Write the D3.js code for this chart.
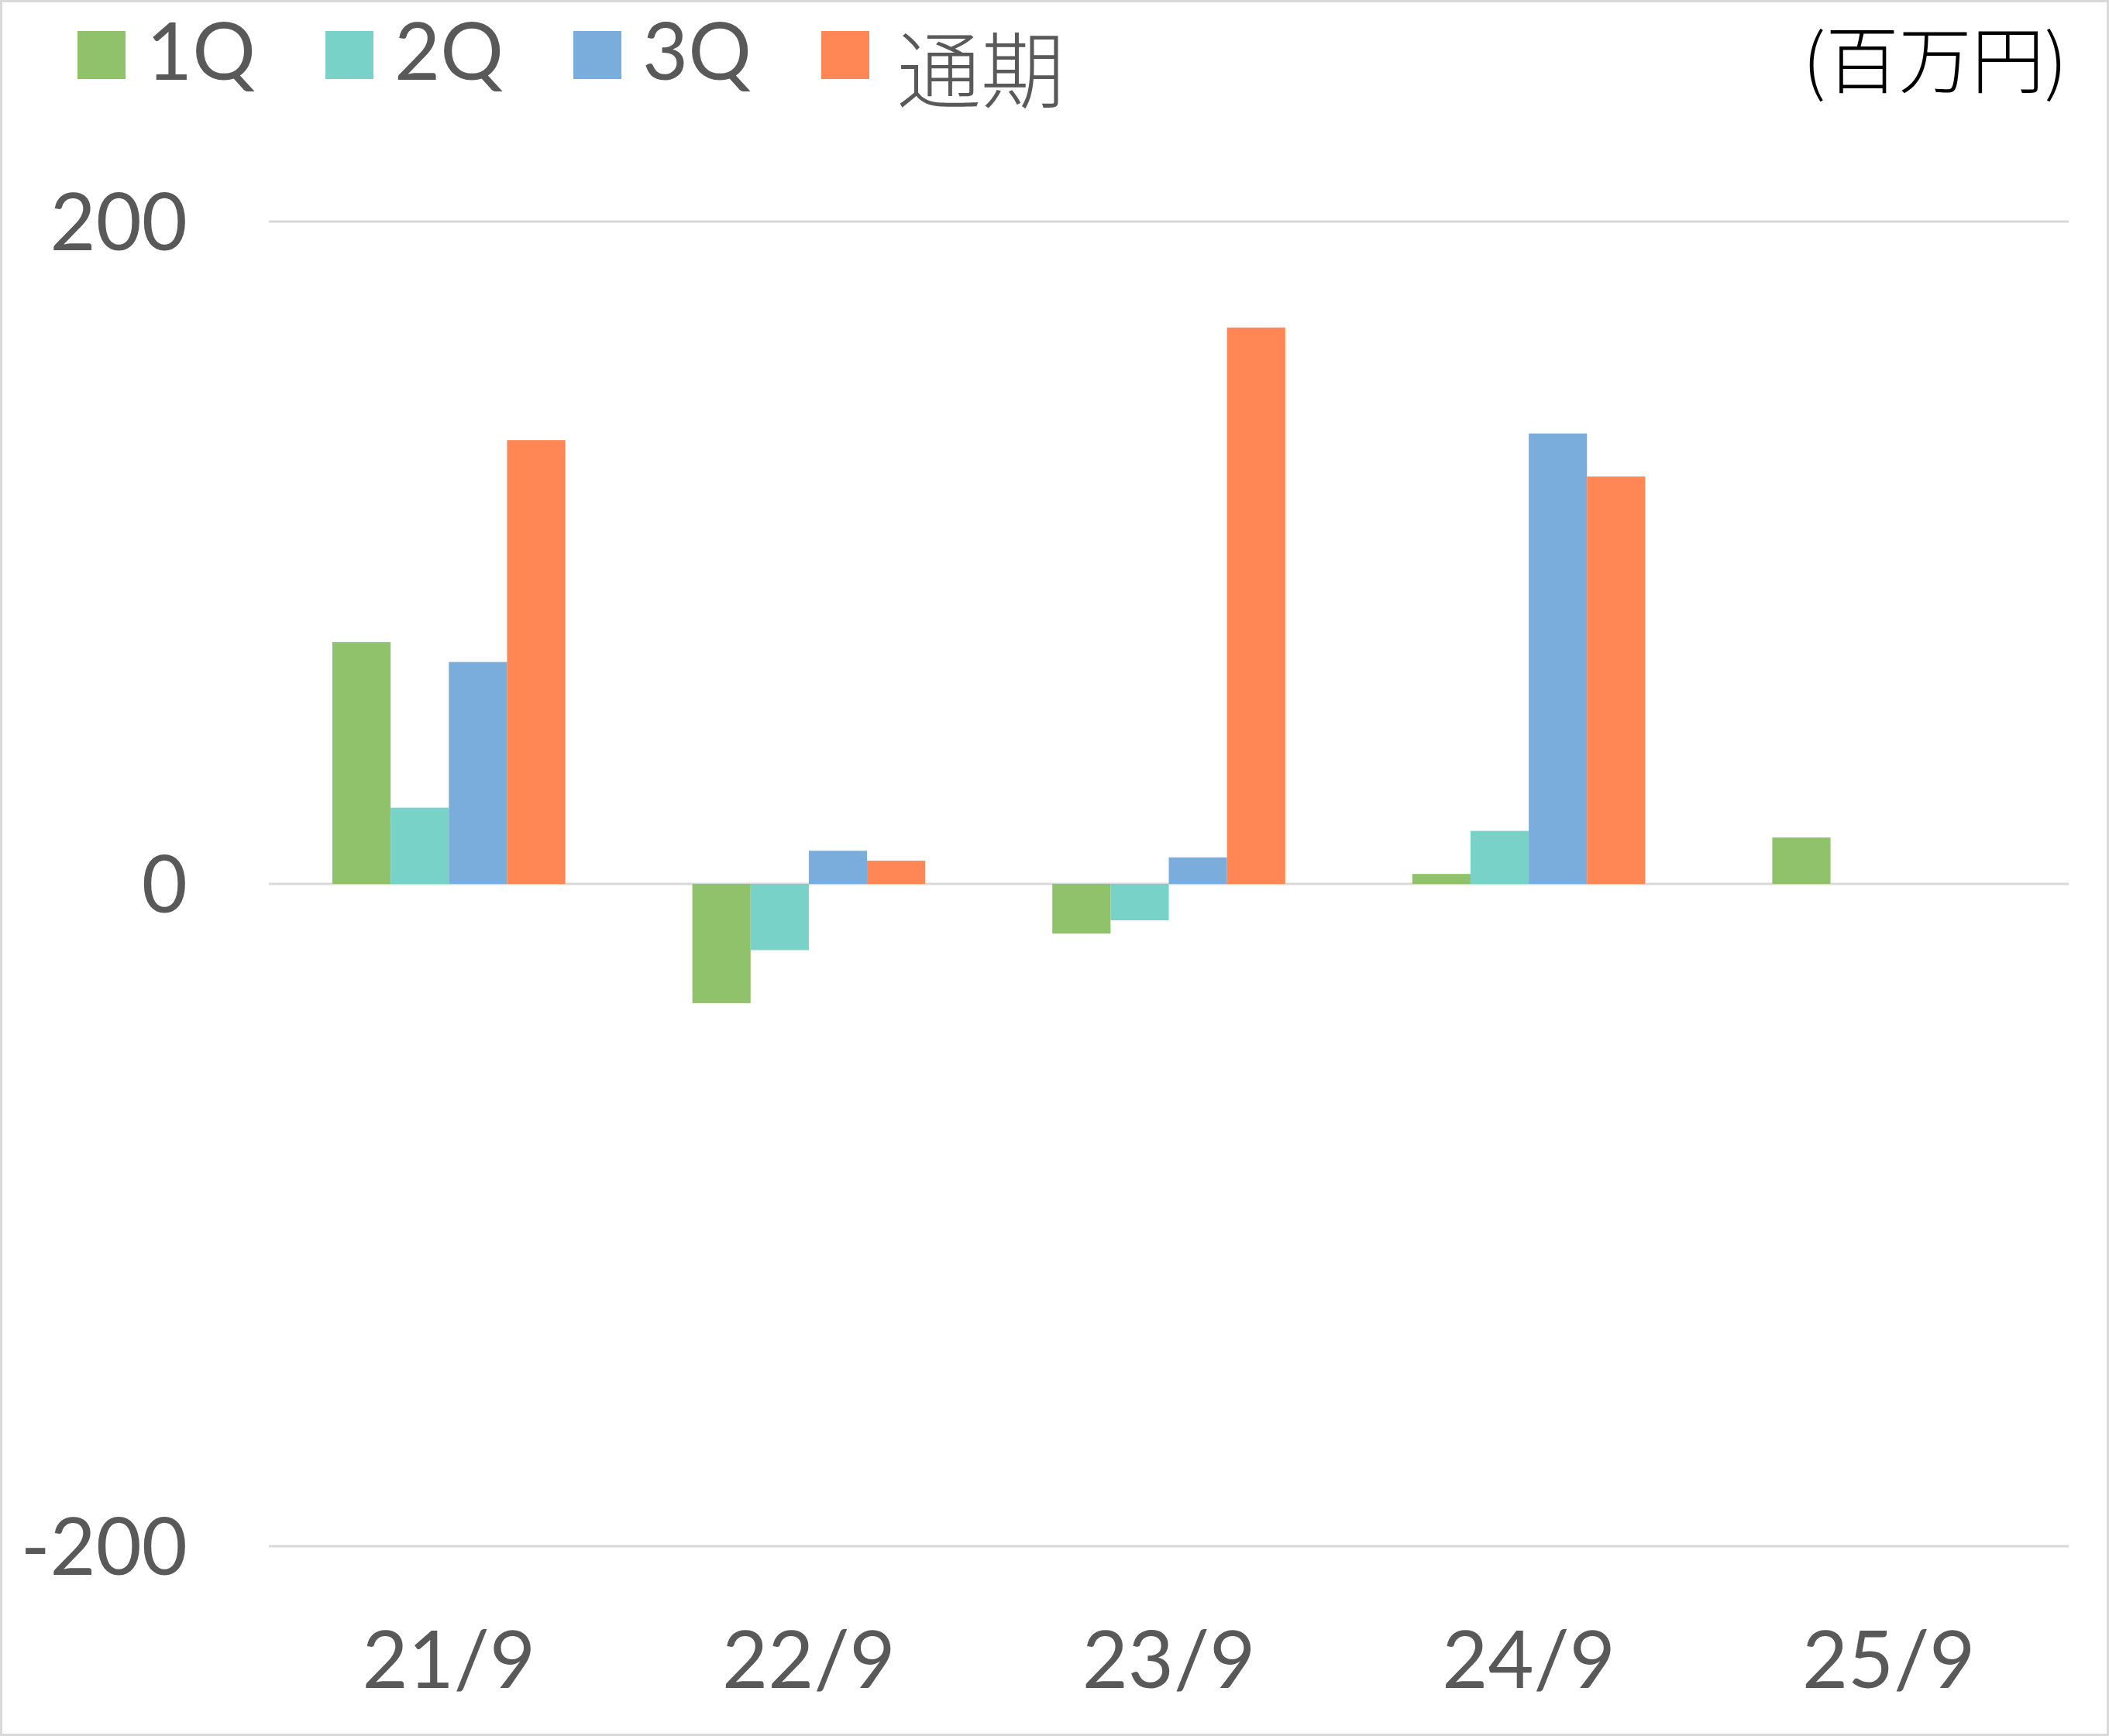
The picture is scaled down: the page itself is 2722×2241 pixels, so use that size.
<!DOCTYPE html>
<html>
<head>
<meta charset="utf-8">
<script src="https://cdn.jsdelivr.net/npm/d3@7"></script>
<style>
  html, body { margin: 0; padding: 0; background: #fff; }
  svg { display: block; }
</style>
</head>
<body>
<div id="chart"></div>
<script>
// data (百万円)
const categories = ["21/9", "22/9", "23/9", "24/9", "25/9"];
const seriesNames = ["1Q", "2Q", "3Q", "通期"];
const q1 = [73, -36, -15, 3, 14];
const q2 = [23, -20, -11, 16, null];
const q3 = [67, 10, 8, 136, null];
const fullYear = [134, 7, 168, 123, null];
const yTicks = [-200, 0, 200];
const unitLabel = "(百万円)";

const seriesValues = [q1, q2, q3, fullYear];
const colors = ["#8FC26B", "#79D2C7", "#7AACDC", "#FF8756"];

const width = 2722;
const height = 2241;
const plot = { left: 347, right: 2670, top: 286, bottom: 1996 };
const latin = "Lato, 'Noto Sans', sans-serif";
const cjk = "'Noto Sans CJK JP', 'Noto Sans', sans-serif";
const textColor = "#595959";

const svg = d3.select("#chart")
  .append("svg")
  .attr("width", width)
  .attr("height", height);

svg.append("rect")
  .attr("x", 1.5).attr("y", 1.5)
  .attr("width", width - 3).attr("height", height - 3)
  .attr("fill", "#fff")
  .attr("stroke", "#d9d9d9")
  .attr("stroke-width", 3);

const x = d3.scaleBand()
  .domain(categories)
  .range([plot.left, plot.right])
  .paddingInner(0.353)
  .paddingOuter(0.1765);

const xSub = d3.scaleBand()
  .domain(seriesNames)
  .range([0, x.bandwidth()]);

const y = d3.scaleLinear()
  .domain([-200, 200])
  .range([plot.bottom, plot.top]);

// gridlines
svg.append("g")
  .selectAll("line")
  .data(yTicks)
  .enter()
  .append("line")
  .attr("x1", plot.left)
  .attr("x2", plot.right)
  .attr("y1", (d) => y(d))
  .attr("y2", (d) => y(d))
  .attr("stroke", "#d9d9d9")
  .attr("stroke-width", 3);

// bars
const rows = [];
seriesNames.forEach((s, i) => {
  categories.forEach((c, j) => {
    const v = seriesValues[i][j];
    if (v !== null) rows.push({ series: s, cat: c, value: v, color: colors[i] });
  });
});

svg.append("g")
  .selectAll("rect")
  .data(rows)
  .enter()
  .append("rect")
  .attr("x", (d) => x(d.cat) + xSub(d.series))
  .attr("width", xSub.bandwidth())
  .attr("y", (d) => y(Math.max(0, d.value)))
  .attr("height", (d) => Math.abs(y(d.value) - y(0)))
  .attr("fill", (d) => d.color);

// y tick labels
svg.append("g")
  .selectAll("text")
  .data(yTicks)
  .enter()
  .append("text")
  .attr("x", 242)
  .attr("y", (d) => y(d))
  .attr("dy", "0.36em")
  .attr("text-anchor", "end")
  .attr("font-family", latin)
  .attr("font-size", 102)
  .attr("fill", textColor)
  .text((d) => d);

// x labels
svg.append("g")
  .selectAll("text")
  .data(categories)
  .enter()
  .append("text")
  .attr("x", (d) => x(d) + x.bandwidth() / 2)
  .attr("y", 2179)
  .attr("text-anchor", "middle")
  .attr("font-family", latin)
  .attr("font-size", 102)
  .attr("fill", textColor)
  .text((d) => d);

// legend
const legend = svg.append("g")
  .selectAll("g")
  .data(seriesNames)
  .enter()
  .append("g")
  .attr("transform", (d, i) => `translate(${100 + i * 320},40)`);

legend.append("rect")
  .attr("width", 62)
  .attr("height", 62)
  .attr("fill", (d, i) => colors[i]);

legend.append("text")
  .attr("x", (d) => (/Q$/.test(d) ? 89 : 98))
  .attr("y", (d) => (/Q$/.test(d) ? 63 : 91))
  .attr("font-family", (d) => (/Q$/.test(d) ? latin : cjk))
  .attr("font-weight", (d) => (/Q$/.test(d) ? 400 : 300))
  .attr("font-size", (d) => (/Q$/.test(d) ? 102 : 108))
  .attr("fill", textColor)
  .text((d) => d);

// unit
svg.append("text")
  .attr("x", 2668)
  .attr("y", 113)
  .attr("text-anchor", "end")
  .attr("font-family", cjk)
  .attr("font-weight", 300)
  .attr("font-size", 94)
  .attr("fill", "#000")
  .text(unitLabel);
</script>
</body>
</html>
